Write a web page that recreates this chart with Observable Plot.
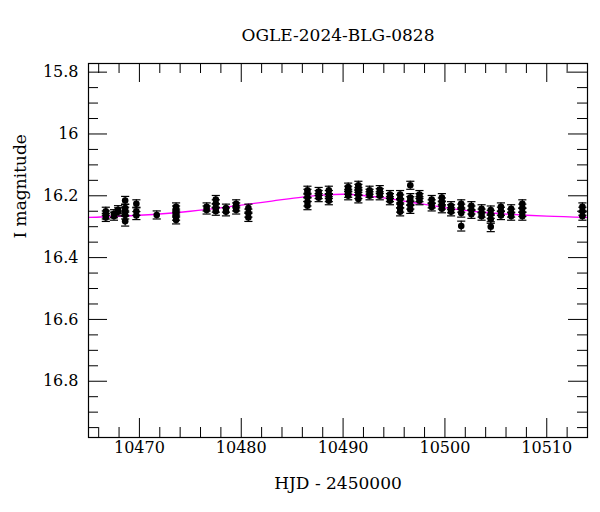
<!DOCTYPE html>
<html><head><meta charset="utf-8">
<script src="https://cdn.jsdelivr.net/npm/d3@7"></script>
<script src="https://cdn.jsdelivr.net/npm/@observablehq/plot@0.6"></script>
<style>body{margin:0;background:#fff} #chart svg{font-family:"DejaVu Serif",serif;background:#fff}</style>
</head><body><div id="chart"></div>
<script>
const title = "OGLE-2024-BLG-0828";
const xLabel = "HJD - 2450000";
const yLabel = "I magnitude";
const xTicks = [10470, 10480, 10490, 10500, 10510];
const yTicks = [15.8, 16, 16.2, 16.4, 16.6, 16.8];
const xDomain = [10465, 10514];
const yDomain = [15.772, 16.982];

const obsDay = [
  10466.7,10466.7,10466.7, 10467.5,10467.5, 10467.9,10467.9,
  10468.6,10468.6,10468.6,10468.6,10468.6, 10469.7,10469.7,10469.7,
  10471.7, 10473.6,10473.6,10473.6,10473.6,10473.6,
  10476.6,10476.6, 10477.5,10477.5,10477.5,10477.5, 10478.5,10478.5,
  10479.5,10479.5,10479.5, 10480.7,10480.7,10480.7,
  10486.5,10486.5,10486.5,10486.5,10486.5, 10487.6,10487.6,10487.6,
  10488.6,10488.6,10488.6,10488.6, 10490.5,10490.5,10490.5,10490.5,
  10491.5,10491.5,10491.5,10491.5,10491.5, 10492.6,10492.6,10492.6,
  10493.6,10493.6,10493.6, 10494.6,10494.6,10494.6,
  10495.6,10495.6,10495.6,10495.6,10495.6, 10496.6,10496.6,10496.6,10496.6,10496.6,
  10497.5,10497.5,10497.5, 10498.7,10498.7,10498.7, 10499.7,10499.7,10499.7,10499.7,
  10500.6,10500.6,10500.6, 10501.6,10501.6,10501.6,10501.6, 10502.6,10502.6,10502.6,
  10503.6,10503.6,10503.6, 10504.5,10504.5,10504.5,10504.5, 10505.5,10505.5,10505.5,
  10506.5,10506.5,10506.5, 10507.6,10507.6,10507.6,10507.6, 10513.5,10513.5,10513.5
];
const obsMag = [
  16.250,16.262,16.270, 16.258,16.266, 16.245,16.252,
  16.215,16.240,16.250,16.262,16.282, 16.226,16.250,16.264,
  16.262, 16.236,16.246,16.256,16.266,16.278,
  16.236,16.246, 16.212,16.226,16.240,16.250, 16.240,16.252,
  16.226,16.236,16.246, 16.240,16.256,16.270,
  16.182,16.192,16.205,16.220,16.232, 16.186,16.196,16.206,
  16.182,16.196,16.206,16.216, 16.172,16.182,16.192,16.200,
  16.166,16.176,16.186,16.196,16.210, 16.182,16.192,16.200,
  16.180,16.190,16.200, 16.196,16.206,16.216,
  16.196,16.210,16.226,16.240,16.252, 16.166,16.206,16.216,16.230,16.244,
  16.196,16.206,16.216, 16.212,16.226,16.236, 16.206,16.220,16.230,16.242,
  16.232,16.242,16.252, 16.226,16.240,16.256,16.298, 16.232,16.246,16.260,
  16.242,16.256,16.266, 16.246,16.260,16.276,16.300, 16.236,16.250,16.264,
  16.242,16.256,16.266, 16.226,16.240,16.254,16.266, 16.236,16.250,16.266
];
const obsErr = obsMag.map(m => (m > 16.28 ? 0.016 : 0.013));

const modelDay = [10465, 10470, 10475, 10480, 10483, 10486, 10488, 10490, 10492, 10494, 10496, 10498, 10500, 10502, 10504, 10506, 10508, 10510, 10514];
const modelMag = [16.270, 16.263, 16.250, 16.230, 16.217, 16.204, 16.198, 16.195, 16.199, 16.207, 16.217, 16.228, 16.238, 16.247, 16.254, 16.259, 16.263, 16.266, 16.270];

const obs = obsDay.map((t, i) => ({t, m: obsMag[i], e: obsErr[i]}));
const model = modelDay.map((t, i) => ({t, m: modelMag[i]}));

const width = 600, height = 512;
const mT = 63, mR = 13, mB = 75, mL = 88;
const FW = width - mL - mR, FH = height - mT - mB;
const major = 19, minor = 10;
const minorX = d3.range(10466, 10515, 2).filter(d => d % 10 !== 0);
const minorY = d3.range(0, 24).map(i => Math.round((15.8 + i * 0.05) * 100) / 100).filter(v => Math.round(v * 100) % 20 !== 0);
const fs = 16;

const chart = Plot.plot({
  width, height,
  marginTop: mT, marginRight: mR, marginBottom: mB, marginLeft: mL,
  style: {fontFamily: "DejaVu Serif, serif", fontSize: fs + "px", color: "black", background: "white"},
  x: {domain: xDomain},
  y: {domain: yDomain, reverse: true},
  marks: [
    Plot.axisX({ticks: xTicks, tickSize: 0, tickPadding: 4, tickFormat: d => String(d), label: null, fontSize: fs}),
    Plot.axisY({ticks: yTicks, tickSize: 0, tickPadding: 10, tickFormat: d => String(d), label: null, fontSize: fs}),
    Plot.tickX(xTicks, {x: d => d, insetTop: FH - major, stroke: "black"}),
    Plot.tickX(xTicks, {x: d => d, insetBottom: FH - major, stroke: "black"}),
    Plot.tickX(minorX, {x: d => d, insetTop: FH - minor, stroke: "black"}),
    Plot.tickX(minorX, {x: d => d, insetBottom: FH - minor, stroke: "black"}),
    Plot.tickY(yTicks, {y: d => d, insetRight: FW - major, stroke: "black"}),
    Plot.tickY(yTicks, {y: d => d, insetLeft: FW - major, stroke: "black"}),
    Plot.tickY(minorY, {y: d => d, insetRight: FW - minor, stroke: "black"}),
    Plot.tickY(minorY, {y: d => d, insetLeft: FW - minor, stroke: "black"}),
    Plot.line(model, {x: "t", y: "m", stroke: "#ff00ff", strokeWidth: 1.3, curve: "monotone-x", clip: true}),
    Plot.ruleX(obs, {x: "t", y1: d => d.m - d.e, y2: d => d.m + d.e, stroke: "black", strokeWidth: 1.2, clip: true}),
    Plot.link(obs, {x1: d => d.t - 0.4, x2: d => d.t + 0.4, y1: d => d.m - d.e, y2: d => d.m - d.e, stroke: "black", strokeWidth: 1.2, clip: true}),
    Plot.link(obs, {x1: d => d.t - 0.4, x2: d => d.t + 0.4, y1: d => d.m + d.e, y2: d => d.m + d.e, stroke: "black", strokeWidth: 1.2, clip: true}),
    Plot.dot(obs, {x: "t", y: "m", r: 3.3, fill: "black", stroke: "none", clip: true}),
    Plot.frame({stroke: "black", strokeWidth: 1.2}),
    Plot.text([title], {frameAnchor: "top", dy: -23, lineAnchor: "bottom", fontSize: 17, fill: "black"}),
    Plot.text([xLabel], {frameAnchor: "bottom", dy: 51, lineAnchor: "bottom", fontSize: 17, fill: "black"}),
    Plot.text([yLabel], {frameAnchor: "left", rotate: -90, dx: -68, dy: -12, fontSize: 17, fill: "black"})
  ]
});
document.getElementById("chart").appendChild(chart);
</script>
</body></html>
